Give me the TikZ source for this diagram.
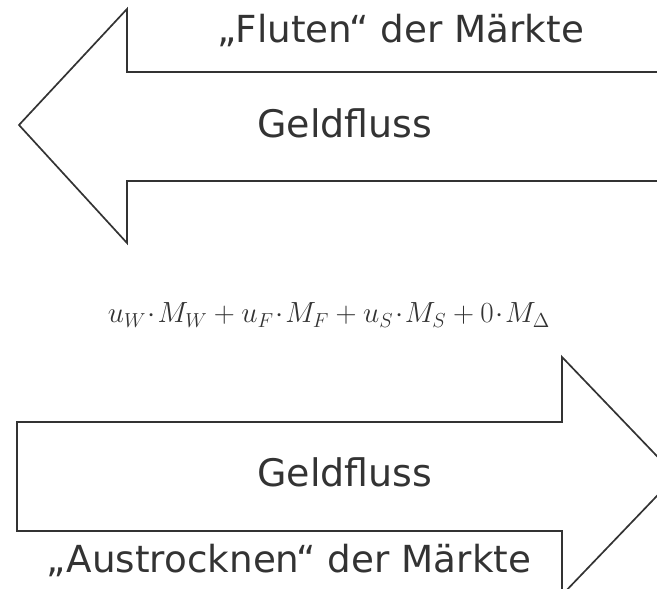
\documentclass[tikz,border=0pt]{standalone}
\usepackage{fontspec}
\setmainfont{DejaVu Sans}
\usepackage{tikz}
\usetikzlibrary{positioning}
\definecolor{InkGray}{HTML}{333333}

\begin{document}
\begin{tikzpicture}[
  x=0.025cm,y=-0.025cm,
  flowarrow/.style={draw=InkGray,line width=1.2pt,line join=miter,fill=white},
  caption/.style={font=\fontsize{26.5}{30}\selectfont,text=InkGray,inner sep=0pt},
  flowlabel/.style={font=\fontsize{27}{30}\selectfont,text=InkGray,inner sep=0pt},
  formula/.style={font=\fontsize{21.5}{24}\selectfont,text=InkGray,inner sep=0pt}
]
\useasboundingbox (0,0) rectangle (657,589);
\clip (0,0) rectangle (657,589);

% Upper arrow: money flows to the left.
\draw[flowarrow] (670,72) -- (127,72) -- (127,9) -- (19,125)
  -- (127,243) -- (127,181) -- (670,181);
\node[caption] (flooding) at (401,31) {„Fluten“ der Märkte};
\node[flowlabel] (flowtop) at (345,123) {Geldfluss};

% Middle: weighted money amounts.
\node[formula] (sum) at (329,315)
  {$u_W\!\cdot\! M_W + u_F\!\cdot\! M_F + u_S\!\cdot\! M_S + 0\!\cdot\! M_{\Delta}$};

% Lower arrow: money flows to the right.
\draw[flowarrow] (562,422) -- (17,422) -- (17,531) -- (562,531)
  -- (562,595) -- (676,476) -- (562,357) -- cycle;
\node[flowlabel] (flowbottom) at (345,472) {Geldfluss};
\node[caption] (drying) at (289,561) {„Austrocknen“ der Märkte};
\end{tikzpicture}
\end{document}
